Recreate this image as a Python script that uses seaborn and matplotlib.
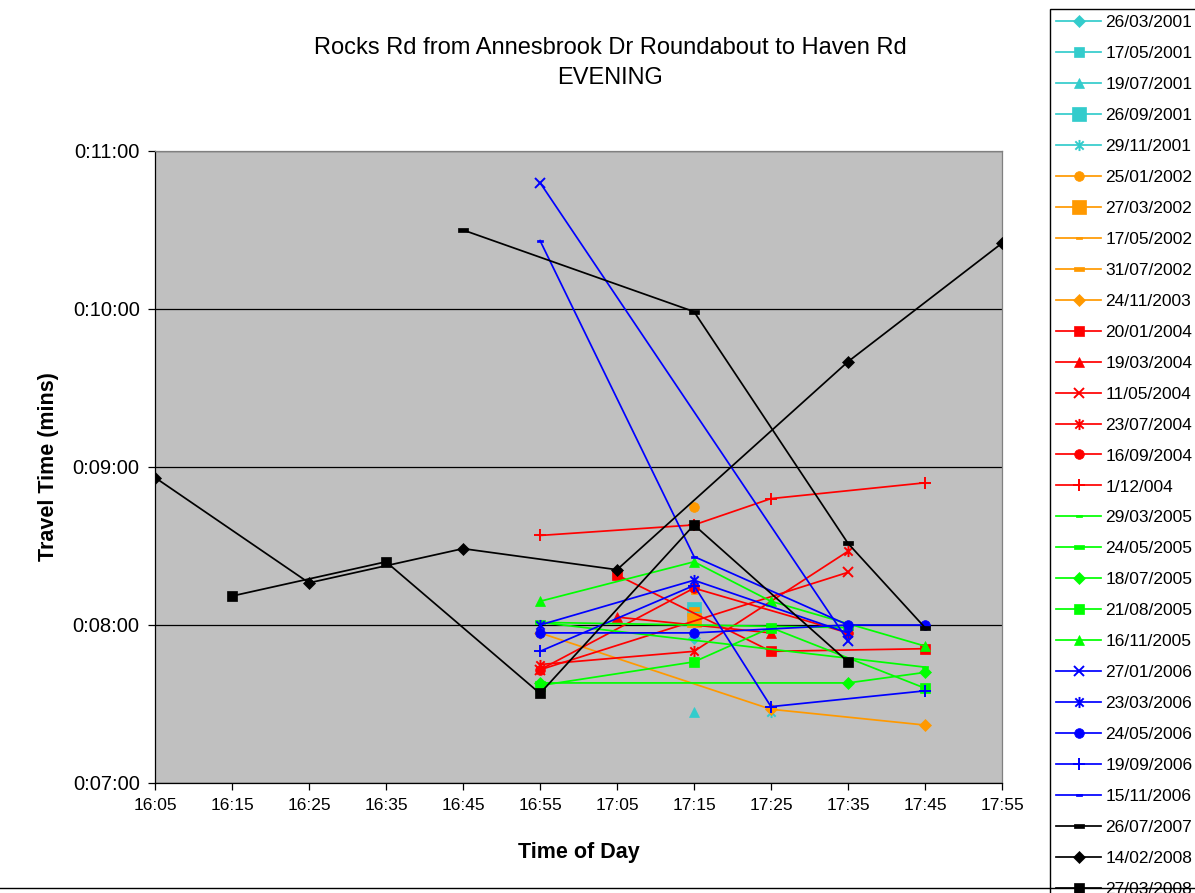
import matplotlib
matplotlib.use("Agg")
import matplotlib.pyplot as plt
from matplotlib.path import Path
from matplotlib.lines import Line2D
from matplotlib.ticker import FixedLocator, FuncFormatter
import seaborn as sns
import pandas as pd
import numpy as np

# Time-of-day slots on the category axis
slots = ["16:05", "16:15", "16:25", "16:35", "16:45", "16:55",
         "17:05", "17:15", "17:25", "17:35", "17:45", "17:55"]

N = None
# Travel times in seconds per survey date (None = no run in that slot)
s_26_03_2001 = [N, N, N, N, N, N, N, 475, N, N, N, N]
s_17_05_2001 = [N, N, N, N, N, N, N, 486, N, N, N, N]
s_19_07_2001 = [N, N, N, N, N, N, N, 447, N, N, N, N]
s_26_09_2001 = [N, N, N, N, N, N, N, 486, N, N, N, N]
s_29_11_2001 = [N, N, N, N, N, N, N, N, 447, N, N, N]
s_25_01_2002 = [N, N, N, N, N, N, N, 525, N, N, N, N]
s_27_03_2002 = [N, N, N, N, N, N, N, 482, N, N, N, N]
s_17_05_2002 = [N, N, N, N, N, N, N, 492, N, N, N, N]
s_31_07_2002 = [N, N, N, N, N, N, N, 486, N, N, N, N]
s_24_11_2003 = [N, N, N, N, N, 477, N, N, 448, N, 442, N]
s_20_01_2004 = [N, N, N, N, N, N, 499, N, 470, N, 471, N]
s_19_03_2004 = [N, N, N, N, N, N, 483, N, 477, N, N, N]
s_11_05_2004 = [N, N, N, N, N, 463, N, N, N, 500, N, N]
s_23_07_2004 = [N, N, N, N, N, 465, N, 470, N, 508, N, N]
s_16_09_2004 = [N, N, N, N, N, 463, N, 494, N, 477, N, N]
s_01_12_2004 = [N, N, N, N, N, 514, N, 518, 528, N, 534, N]
s_29_03_2005 = [N, N, N, N, N, 481, N, N, N, N, 464, N]
s_24_05_2005 = [N, N, N, N, N, 481, N, N, N, 479, N, N]
s_18_07_2005 = [N, N, N, N, N, 458, N, N, N, 458, 462, N]
s_21_08_2005 = [N, N, N, N, N, 457, N, 466, 479, N, 456, N]
s_16_11_2005 = [N, N, N, N, N, 489, N, 504, 489, N, 472, N]
s_27_01_2006 = [N, N, N, N, N, 648, N, N, N, 474, N, N]
s_23_03_2006 = [N, N, N, N, N, 480, N, 497, N, 477, N, N]
s_24_05_2006 = [N, N, N, N, N, 477, N, 477, N, 480, 480, N]
s_19_09_2006 = [N, N, N, N, N, 470, N, 495, 449, N, 455, N]
s_15_11_2006 = [N, N, N, N, N, 626, N, 506, N, 480, N, N]
s_26_07_2007 = [N, N, N, N, 630, N, N, 599, N, 511, 479, N]
s_14_02_2008 = [536, N, 496, N, 509, N, 501, N, N, 580, N, 625]
s_27_03_2008 = [N, 491, N, 504, N, 454, N, 518, N, 466, N, N]

labels = ["26/03/2001", "17/05/2001", "19/07/2001", "26/09/2001", "29/11/2001",
          "25/01/2002", "27/03/2002", "17/05/2002", "31/07/2002", "24/11/2003",
          "20/01/2004", "19/03/2004", "11/05/2004", "23/07/2004", "16/09/2004",
          "1/12/004", "29/03/2005", "24/05/2005", "18/07/2005", "21/08/2005",
          "16/11/2005", "27/01/2006", "23/03/2006", "24/05/2006", "19/09/2006",
          "15/11/2006", "26/07/2007", "14/02/2008", "27/03/2008"]
series = [s_26_03_2001, s_17_05_2001, s_19_07_2001, s_26_09_2001, s_29_11_2001,
          s_25_01_2002, s_27_03_2002, s_17_05_2002, s_31_07_2002, s_24_11_2003,
          s_20_01_2004, s_19_03_2004, s_11_05_2004, s_23_07_2004, s_16_09_2004,
          s_01_12_2004, s_29_03_2005, s_24_05_2005, s_18_07_2005, s_21_08_2005,
          s_16_11_2005, s_27_01_2006, s_23_03_2006, s_24_05_2006, s_19_09_2006,
          s_15_11_2006, s_26_07_2007, s_14_02_2008, s_27_03_2008]

# Marker shapes
asterisk = Path([(0, -1), (0, 1), (-0.75, -0.75), (0.75, 0.75), (-0.75, 0.75), (0.75, -0.75)],
                [Path.MOVETO, Path.LINETO] * 3)
dash = Path([(-1, -0.32), (1, -0.32), (1, 0.32), (-1, 0.32), (-1, -0.32)],
            [Path.MOVETO, Path.LINETO, Path.LINETO, Path.LINETO, Path.CLOSEPOLY])

CY, OR, RD, GR, BL, BK = "#33CCCC", "#FF9900", "#FF0000", "#00FF00", "#0000FF", "#000000"
# (colour, marker, marker size)
styles = [
    (CY, "D", 6.5), (CY, "s", 6.5), (CY, "^", 7.5), (CY, "s", 10), (CY, asterisk, 8),
    (OR, "o", 7), (OR, "s", 10), (OR, dash, 5), (OR, dash, 7), (OR, "D", 6.5),
    (RD, "s", 6.5), (RD, "^", 7.5), (RD, "x", 7.5), (RD, asterisk, 8), (RD, "o", 7), (RD, "+", 8),
    (GR, dash, 5), (GR, dash, 7), (GR, "D", 6.5), (GR, "s", 6.5), (GR, "^", 7.5),
    (BL, "x", 7.5), (BL, asterisk, 8), (BL, "o", 7), (BL, "+", 8), (BL, dash, 5),
    (BK, dash, 7), (BK, "D", 6.5), (BK, "s", 6.5),
]

rows = []
for lab, vals in zip(labels, series):
    for i, v in enumerate(vals):
        if v is not None:
            rows.append({"date": lab, "pos": i, "secs": v})
df = pd.DataFrame(rows)

plt.rcParams["font.family"] = ["Liberation Sans", "DejaVu Sans"]

W, H = 1195, 893
fig = plt.figure(figsize=(W / 100, H / 100), dpi=100, facecolor="white")
ax = fig.add_axes([155 / W, 1 - 783 / H, (1002 - 155) / W, (783 - 151) / H])
ax.set_facecolor("#C0C0C0")

handles = []
for k, (lab, (col, mk, ms)) in enumerate(zip(labels, styles)):
    sub = df[df["date"] == lab]
    open_marker = mk in ("x", "+") or mk is asterisk
    sns.lineplot(data=sub, x="pos", y="secs", ax=ax, color=col, linewidth=1.25,
                 marker=mk, markersize=ms, markerfacecolor=col, markeredgecolor=col,
                 markeredgewidth=1.4 if open_marker else 0.5, estimator=None,
                 sort=True, zorder=3 + k, legend=False)
    handles.append(ax.lines[-1])

ax.set_xlim(0, len(slots) - 1)
ax.set_ylim(420, 660)
ax.xaxis.set_major_locator(FixedLocator(range(len(slots))))
ax.set_xticklabels(slots)
ax.yaxis.set_major_locator(FixedLocator([420, 480, 540, 600, 660]))
ax.yaxis.set_major_formatter(FuncFormatter(lambda v, p: f"0:{int(v // 60):02d}:{int(v % 60):02d}"))
ax.grid(axis="y", color="black", linewidth=0.9, zorder=1)
ax.grid(axis="x", visible=False)
ax.set_axisbelow(True)
ax.tick_params(axis="both", direction="out", length=5, width=0.9, colors="black", pad=6)
ax.tick_params(axis="x", labelsize=12.5)
ax.tick_params(axis="y", labelsize=14.5)
for side in ("left", "bottom"):
    ax.spines[side].set_color("black")
    ax.spines[side].set_linewidth(0.9)
for side in ("top", "right"):
    ax.spines[side].set_color("#808080")
    ax.spines[side].set_linewidth(0.9)

ax.set_xlabel("Time of Day", fontsize=15.5, fontweight="bold", labelpad=21)
ax.set_ylabel("Travel Time (mins)", fontsize=15.5, fontweight="bold", labelpad=10)

fig.text(610 / W, 1 - 63 / H, "Rocks Rd from Annesbrook Dr Roundabout to Haven Rd\nEVENING",
         ha="center", va="center", fontsize=17, linespacing=1.42)

top = 1 - 9 / H
leg = fig.legend(handles, labels, loc="upper left",
                 bbox_to_anchor=(1050 / W, top - 0.01, 200 / W, 0.01), mode="expand",
                 borderaxespad=0,
                 fontsize=12.5, frameon=True, fancybox=False, framealpha=1,
                 edgecolor="black", handlelength=2.6, handletextpad=0.25,
                 labelspacing=0.91, borderpad=0.35)
leg.get_frame().set_linewidth(1.0)

fig.add_artist(Line2D([0, 1], [1 - 888 / H, 1 - 888 / H], color="black", linewidth=1.0,
                      transform=fig.transFigure, zorder=10))

fig.savefig("out.png", dpi=100, facecolor="white")
